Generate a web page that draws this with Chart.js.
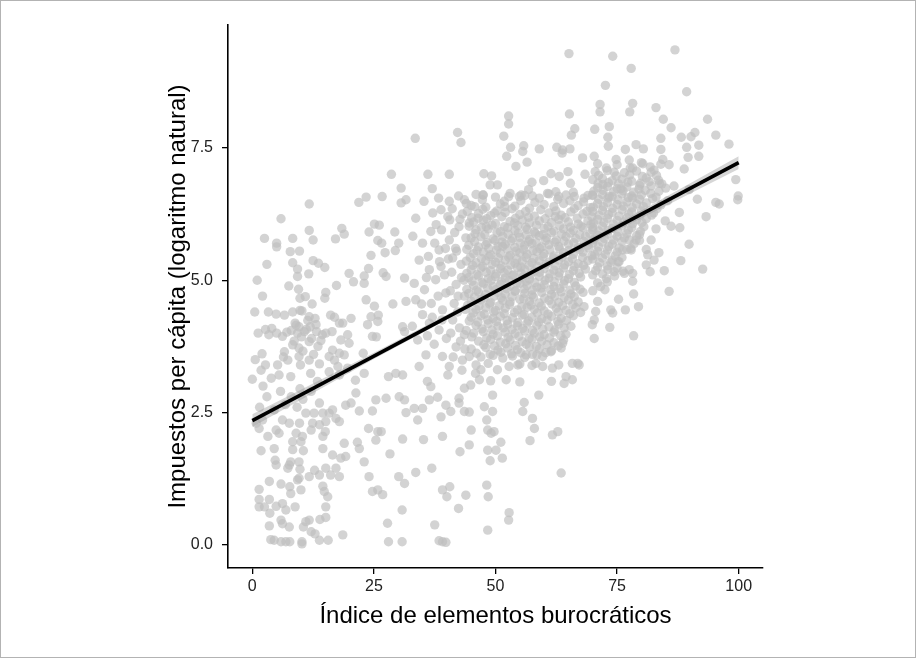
<!DOCTYPE html>
<html>
<head>
<meta charset="utf-8">
<script src="https://cdn.jsdelivr.net/npm/chart.js@4.4.1/dist/chart.umd.min.js"></script>
<style>
  html, body { margin: 0; padding: 0; background: #fff; }
  #grafico { display: block; }
</style>
</head>
<body>
<canvas id="grafico" width="916" height="658"></canvas>
<script>
// ticks
const xTicks = [0, 25, 50, 75, 100];
const yTicks = [0, 2.5, 5, 7.5];
const yTickLabels = ['0.0', '2.5', '5.0', '7.5'];

// recta de regresión y banda de confianza
const lineaX = [0, 100];
const lineaY = [2.35, 7.22];
const bandaX = [0, 25, 50, 75, 100];
const bandaInf = [2.23, 3.51, 4.75, 5.94, 7.10];
const bandaSup = [2.47, 3.63, 4.83, 6.06, 7.34];

// puntos: [índice, impuestos]
const puntosIzquierda = [
  [28.6,7.0],[30.6,6.74],[26.7,6.58],[23.4,6.57],[21.9,6.47],[11.7,6.44],[31.6,6.52],[30.6,6.46],
  [5.9,6.16],[2.5,5.79],[5.0,5.70],[5.0,5.63],[8.3,5.79],[7.8,5.54],[9.7,5.55],[11.7,5.94],[12.5,5.76],
  [18.4,5.98],[18.9,5.87],[17.1,5.78],[24.0,5.91],[25.1,6.06],[26.1,6.04],[25.8,5.75],[26.6,5.70],
  [29.3,5.91],[27.3,5.52],[29.4,5.56],[30.1,5.70],[8.3,5.33],[9.3,5.21],[9.3,5.07],[12.5,5.37],[13.6,5.32],
  [14.9,5.24],[11.6,5.12],[7.5,4.89],[9.5,4.83],[9.8,4.66],[15.1,4.77],[14.9,4.66],[17.3,4.90],[10.9,4.69],
  [12.3,4.55],[9.8,4.43],[19.9,5.13],[20.8,4.97],[23.0,5.08],[23.0,4.94],[23.9,5.22],[24.4,5.47],[26.9,5.14],
  [27.5,5.07],[31.3,5.04],[23.4,4.63],[25.1,4.51],[28.9,4.55],[31.6,4.60],[4.9,4.36],[6.6,4.34],[8.3,4.40],
  [11.7,4.31],[12.9,4.28],[16.1,4.34],[16.9,4.30],[18.6,4.19],[20.3,4.28],[24.4,4.31],[25.9,4.34],[25.8,4.22],
  [23.7,4.16],[2.7,4.07],[4.0,4.09],[3.4,3.97],[5.0,4.00],[6.2,3.94],[8.8,4.19],[9.6,4.12],[10.7,4.03],
  [9.3,4.00],[11.9,4.12],[13.2,4.03],[14.4,3.97],[15.1,4.00],[16.4,4.03],[17.9,4.19],[19.6,3.97],[19.9,3.81],
  [18.2,3.87],[8.3,3.78],[9.6,3.72],[11.7,3.84],[6.6,3.65],[2.0,3.61],[7.3,3.49],[9.6,3.56],[11.7,3.49],
  [16.5,3.68],[17.9,3.62],[18.9,3.59],[16.9,3.49],[15.8,3.56],[2.7,3.40],[5.2,3.40],[9.9,3.40],[13.8,3.42],
  [17.6,3.37],[19.6,3.34],[22.8,3.62],[24.7,3.94],[25.5,3.93],[30.9,4.12],[31.3,4.03],[0.0,3.13],[3.9,3.15],
  [5.5,3.21],[7.9,3.18],[12.0,3.24],[13.4,3.09],[15.8,3.27],[17.9,3.21],[23.0,3.24],[21.2,3.11],[28.0,3.18],
  [29.5,3.24],[30.9,3.21],
  [8.0,4.05],[9.0,4.15],[10.1,3.93],[11.1,4.07],[12.2,3.9],[8.6,3.85],[10.4,3.66],[7.1,4.02],[11.4,4.24],
  [13.1,4.16],[14.1,3.86],[12.6,3.6],[6.4,3.55],[10.2,4.42],[13.5,3.75],[1.2,4.0],[0.6,3.5],[1.8,3.3],
  [3.3,4.4],[2.1,4.7],[1.0,5.0],[3.0,5.3],[0.5,4.4],
  [1.5,2.6],[3.0,2.8],[4.5,2.55],[5.8,2.9],[6.8,2.65],[8.0,2.8],[9.2,2.6],[10.4,2.75],[2.2,3.0],[9.8,2.95],
  [1.8,1.78],[1.4,1.05],[1.4,0.86],[1.4,0.72],[3.5,1.20],[3.5,0.86],[3.6,0.60],[3.5,0.36],[3.8,0.10],
  [2.5,0.72],[4.9,0.73],[5.9,1.15],[6.2,0.78],[5.9,0.47],[6.2,0.40],[6.9,0.66],[7.7,1.10],[7.9,0.97],
  [7.6,0.34],[8.8,0.72],[10.0,1.04],[9.3,1.23],[9.6,1.26],[10.5,0.34],[11.0,0.44],[11.7,0.47],[12.1,0.25],
  [12.9,0.21],[13.9,0.48],[15.1,0.52],[15.1,0.72],[15.5,0.91],[14.8,1.01],[14.5,1.11],[13.8,0.09],[15.6,0.09],
  [18.6,0.19],[4.5,0.09],[5.9,0.06],[6.9,0.06],[7.7,0.06],[10.2,0.06],[10.2,0.02],[11.7,1.29],[12.8,1.41],
  [13.8,1.32],[15.1,1.45],[16.1,1.32],[17.2,1.45],[17.9,1.29],[7.6,1.51],[7.3,1.45],[9.6,1.57],[9.8,1.43],
  [4.7,1.60],[4.9,1.51],[7.9,1.57],[4.5,1.82],[8.3,1.80],[10.5,1.78],[12.1,2.17],[10.0,1.95],[14.5,1.82],
  [15.0,2.14],[16.5,1.70],[18.2,1.64],[19.2,1.67],[18.9,1.92],[21.6,1.94],[22.0,1.82],[23.0,1.57],[24.0,1.29],
  [24.7,1.01],[25.8,1.04],[26.8,0.95],[27.8,0.41],[28.0,0.06],[30.8,0.06],[30.8,0.66],[30.1,1.29],[31.3,1.16],
  [28.3,1.72],[30.9,2.00],[23.9,2.20],[25.8,2.14],[26.5,2.14],[25.4,1.98],[24.7,2.53],[25.4,2.74],[27.5,2.77],
  [30.2,2.80],[31.3,2.74],[31.6,2.50],[19.2,2.64],[20.3,2.68],[21.3,2.87],[22.0,2.53],[12.1,2.90],[13.8,2.68],
  [11.0,2.49],[12.7,2.49],[14.5,2.49],[15.8,2.49],[16.5,2.55],[17.2,2.39],[17.9,2.33],[12.4,2.30],[9.7,2.30],
  [7.6,2.30],[6.2,2.36],[4.9,2.17],[3.2,2.05],[5.5,2.11],[9.0,2.11],[10.3,2.05],[13.8,2.27],[15.1,2.33],
  [14.5,2.05],[8.3,1.95],[1.4,2.20],[2.1,2.36],[0.8,2.30]
];

const puntosCentro = [
  [65.1,9.28],[65.2,8.14],[66.3,7.86],[65.6,7.74],[52.7,8.10],[52.7,7.95],[51.7,7.72],[42.2,7.79],[42.9,7.60],
  [33.5,7.68],[53.1,7.51],[55.8,7.54],[55.6,7.43],[52.3,7.34],[56.5,7.23],[54.2,7.15],[59.0,7.48],[62.6,7.51],
  [63.8,7.46],[65.3,7.48],[63.7,7.40],[67.9,7.31],[36.1,7.00],[40.5,7.00],[47.6,7.01],[49.2,6.97],[48.9,6.80],
  [50.4,6.80],[57.5,6.85],[59.9,6.88],[61.4,7.01],[63.1,6.96],[64.9,7.05],[65.4,6.83],[68.4,7.00],[37.0,6.73],
  [35.3,6.49],[38.3,6.55],[40.5,6.49],[42.4,6.59],[43.6,6.52],[47.5,6.61],[52.7,6.58],[54.9,6.58],[56.8,6.71],
  [57.6,6.59],[60.7,6.64],[62.4,6.67],[64.5,6.61],[66.2,6.58],[68.2,6.55],
  [47.4,6.61],[55.3,6.61],[45.7,6.39],[46.4,6.17],[49.8,6.27],[51.9,6.39],[53.9,6.08],[51.5,5.64],[48.1,6.01],
  [37.1,6.27],[33.6,6.17],[38.8,6.33],[40.6,6.14],[42.5,6.01],[44.6,6.08],[33.0,5.83],[35.0,5.70],[36.7,5.92],
  [38.4,5.57],[40.5,5.76],[34.3,5.38],[36.4,5.20],[38.8,5.26],[41.2,5.42],[33.3,4.94],[35.4,4.82],[37.7,5.01],
  [39.8,4.76],[41.9,4.92],[33.6,4.63],[36.8,4.56],[39.1,4.44],[41.5,4.56],[36.4,4.19],[38.4,4.06],[41.2,4.25],
  [32.9,4.13],[37.4,3.79],[41.9,3.74],
  [34.0,3.87],[35.0,4.35],[34.3,3.37],[35.7,3.59],[39.1,3.56],[40.5,3.37],[40.2,3.21],[43.2,3.49],[44.6,3.56],
  [45.9,3.24],[47.0,3.31],[50.4,3.31],[52.2,3.12],[52.8,3.37],[54.6,3.40],[56.3,3.59],[58.3,3.43],[59.7,3.56],
  [61.4,3.65],[61.7,3.34],[63.8,3.81],[65.8,3.43],[67.2,3.40],[64.5,3.18],[59.7,3.37],[43.6,3.97],[66.9,3.43],
  [36.0,3.09],[36.7,2.99],[35.0,2.58],[33.3,2.58],[34.0,2.36],[38.8,2.42],[39.8,2.64],[40.8,2.52],[42.5,2.77],
  [43.6,2.96],[44.9,3.02],[42.5,2.68],[43.6,2.52],[44.6,2.51],[38.1,2.79],[36.4,2.74],[46.7,3.12],[47.7,2.61],
  [49.4,2.83],[49.4,2.52],[48.2,2.36],[48.4,2.17],[49.1,2.11],[49.7,2.14],[45.0,2.17],[44.6,1.89],[42.7,1.76],
  [39.1,2.05],[35.2,1.99],[48.4,1.79],[50.1,1.79],[51.1,1.94],[51.4,1.64],[48.9,1.59],[55.9,2.69],[55.6,2.52],
  [58.9,2.83],[57.6,2.39],[58.0,2.20],[57.1,1.97],[61.7,2.08],[62.8,2.14],[64.1,3.05],[65.8,3.12],[63.5,1.36],
  [33.6,1.37],[36.9,1.45],[39.1,1.04],[40.6,1.10],[40.0,0.91],[43.9,0.94],[48.2,1.13],[48.5,0.91],[42.4,0.69],
  [52.8,0.61],[52.7,0.47],[48.4,0.28],[37.5,0.38],[38.4,0.08],[39.8,0.05],[39.1,0.06],
  [36.2,5.45],[37.5,5.7],[38.9,5.95],[40.2,6.2],[41.8,5.6],[42.9,5.3],[43.5,5.0],[42.3,4.7],[43.8,4.45],
  [40.8,4.0],[42.6,4.1],[43.9,5.8],[42.0,5.55],[39.5,5.1],[40.7,4.8],[38.2,4.7],[37.0,4.3],[39.9,3.9],
  [42.8,3.85],[41.3,3.55],[43.1,3.3],[37.8,6.05],[41.1,6.35],[43.2,6.25],[44.0,6.45],[43.0,5.05],[40.3,5.4],
  [38.5,5.35],[35.8,5.05],[34.8,4.55],[36.0,3.95],[39.0,4.25],[42.2,4.4],[43.6,4.7],[41.0,5.15],[43.7,3.7],
  [44.0,4.05],[42.7,6.15],[41.6,5.9],[39.7,5.6]
];

const nubeCentral = [
  [46,6.62],[50,6.57],[53,6.64],[56,6.6],[59,6.55],[61,6.63],[63,6.58],[66,6.66],[69,6.6],
  [45,6.41],[48,6.38],[51,6.44],[54,6.4],[57,6.36],[60,6.43],[62,6.39],[64,6.45],[67,6.41],[69.5,6.37],
  [46.5,6.26],[49,6.22],[52,6.28],[55,6.24],[58,6.21],[61,6.27],[63.5,6.23],[65.5,6.29],[68,6.25],
  [45.5,6.1],[47.5,6.13],[50,6.07],[53,6.11],[55.5,6.14],[57,6.08],[59,6.12],[61.5,6.09],[63,6.15],[65,6.1],[67,6.06],[69,6.12],
  [46,5.95],[48.5,5.97],[51,5.92],[52.5,5.99],[54,5.94],[56.5,5.96],[58,5.91],[60,5.98],[62,5.93],[64,5.97],[66,5.94],[68,5.99],[70,5.95],
  [45,5.8],[47,5.82],[49.5,5.78],[51.5,5.83],[53.5,5.79],[55,5.81],[57,5.77],[59,5.84],[60.5,5.8],[62.5,5.76],[64.5,5.82],[66.5,5.79],[68.5,5.83],
  [44.5,5.66],[46.5,5.63],[48,5.67],[50.5,5.64],[52,5.68],[54,5.62],[56,5.66],[57.5,5.69],[59.5,5.63],[61,5.67],[63,5.64],[65,5.68],[67,5.62],[69,5.66],
  [45.5,5.5],[47.5,5.53],[49,5.48],[51,5.51],[53,5.47],[55,5.52],[56.5,5.49],[58.5,5.54],[60,5.5],[62,5.46],[64,5.52],[66,5.49],[68,5.53],
  [44,5.36],[46,5.33],[48,5.37],[50,5.34],[52,5.38],[54,5.32],[55.5,5.36],[57.5,5.33],[59,5.37],[61,5.34],[63,5.38],[65,5.35],[67,5.31],[69,5.37],
  [45,5.2],[47,5.23],[49,5.18],[51,5.22],[52.5,5.19],[54.5,5.24],[56,5.2],[58,5.17],[60,5.22],[62,5.19],[64,5.23],[66,5.18],[68.5,5.21],
  [44.5,5.05],[46.5,5.08],[48.5,5.03],[50,5.07],[52,5.04],[53.5,5.09],[55.5,5.05],[57,5.02],[59,5.07],[61,5.04],[63,5.08],[65,5.03],[67.5,5.06],
  [45.5,4.9],[47.5,4.93],[49.5,4.88],[51,4.92],[53,4.89],[55,4.94],[56.5,4.9],[58.5,4.87],[60,4.92],[62,4.88],[64,4.93],[66.5,4.89],
  [44.5,4.75],[46.5,4.78],[48,4.73],[50.5,4.77],[52,4.74],[54,4.79],[56,4.75],[57.5,4.72],[59.5,4.77],[61.5,4.73],[63.5,4.78],[65.5,4.74],[68,4.77],
  [45,4.6],[47,4.63],[49,4.58],[51.5,4.62],[53,4.59],[55,4.64],[57,4.6],[59,4.57],[61,4.62],[63,4.58],[65,4.63],[67,4.59],
  [46,4.45],[48,4.48],[50,4.43],[52,4.47],[54.5,4.44],[56.5,4.49],[58,4.45],[60,4.42],[62.5,4.47],[64.5,4.43],[66.5,4.48],
  [45,4.3],[47,4.33],[49.5,4.28],[51,4.32],[53.5,4.29],[55.5,4.34],[57.5,4.3],[59.5,4.27],[61.5,4.32],[63.5,4.28],[66,4.33],
  [46,4.15],[48.5,4.18],[50.5,4.13],[52.5,4.17],[54.5,4.14],[56.5,4.19],[58.5,4.15],[61,4.12],[63,4.17],[65.5,4.13],
  [45.5,4.0],[47.5,4.03],[49.5,3.98],[52,4.02],[54,3.99],[56,4.04],[58,4.0],[60,3.97],[62,4.02],[64.5,3.98],
  [46.5,3.85],[49,3.88],[51,3.83],[53,3.87],[55.5,3.84],[57.5,3.89],[59.5,3.85],[62,3.82],[64,3.87],
  [45,3.7],[48,3.73],[50.5,3.68],[52.5,3.72],[54.5,3.69],[57,3.74],[59,3.7],[61.5,3.67],[63.5,3.72],
  [47,3.55],[49.5,3.58],[51.5,3.53],[53.5,3.57],[56,3.54],[58.5,3.59],
  [46,3.4],[48.5,3.43],[55,3.42],[57.5,3.39],[63,3.4],
  [49,3.1],[55,3.08],[61.5,3.09]
];

// segunda capa de la nube densa, entre las filas de la primera
const nubeCentral2 = [
  [47.3,6.52],[51.8,6.49],[55.2,6.5],[58.1,6.47],[62.8,6.53],[65.3,6.5],[68.1,6.48],
  [44.2,6.3],[47.4,6.34],[50.3,6.31],[53.4,6.35],[56.2,6.3],[59.3,6.33],[62.4,6.31],[66.2,6.35],[68.8,6.3],
  [45.1,6.18],[48.2,6.16],[51.3,6.2],[54.1,6.17],[56.8,6.19],[60.2,6.16],[62.3,6.2],[64.3,6.18],[66.8,6.17],[69.8,6.2],
  [44.6,6.02],[47.1,6.0],[49.3,6.04],[51.8,6.01],[54.6,6.03],[56.2,6.0],[58.4,6.04],[60.8,6.01],[63.2,6.03],[65.4,6.0],[67.6,6.02],[69.6,6.05],
  [45.8,5.88],[47.8,5.86],[50.3,5.9],[52.6,5.87],[54.7,5.89],[56.3,5.85],[58.2,5.88],[59.8,5.86],[61.5,5.9],[63.6,5.87],[65.4,5.89],[67.3,5.86],[69.4,5.88],
  [45.7,5.73],[48.3,5.71],[49.9,5.75],[51.3,5.72],[53.2,5.74],[55.1,5.7],[56.8,5.73],[58.4,5.71],[60.3,5.75],[62.2,5.72],[64.1,5.74],[66.1,5.71],[68.2,5.73],[70.2,5.76],
  [44.1,5.58],[46.2,5.56],[48.6,5.6],[50.2,5.57],[52.4,5.59],[54.2,5.55],[55.8,5.58],[57.7,5.56],[59.1,5.6],[61.2,5.57],[63.2,5.59],[65.1,5.56],[67.3,5.58],[69.2,5.61],
  [44.8,5.43],[47.1,5.41],[48.7,5.45],[50.6,5.42],[52.7,5.44],[54.4,5.4],[56.3,5.43],[57.9,5.41],[59.8,5.45],[61.9,5.42],[63.7,5.44],[65.8,5.41],[67.9,5.43],[69.8,5.46],
  [45.3,5.28],[47.4,5.26],[49.3,5.3],[51.2,5.27],[53.1,5.29],[55.2,5.25],[56.9,5.28],[58.6,5.26],[60.4,5.3],[62.3,5.27],[64.2,5.29],[66.2,5.26],[68.1,5.28],
  [44.1,5.13],[46.2,5.11],[48.1,5.15],[50.1,5.12],[51.8,5.14],[53.7,5.1],[55.3,5.13],[57.2,5.11],[59.1,5.15],[61.2,5.12],[63.1,5.14],[65.2,5.11],[67.2,5.13],
  [45.2,4.98],[47.2,4.96],[49.1,5.0],[51.2,4.97],[52.8,4.99],[54.4,4.95],[56.3,4.98],[58.1,4.96],[60.2,5.0],[62.1,4.97],[64.2,4.99],[66.2,4.96],
  [44.1,4.83],[46.1,4.81],[48.4,4.85],[50.1,4.82],[52.3,4.84],[54.1,4.8],[55.9,4.83],[57.6,4.81],[59.4,4.85],[61.3,4.82],[63.2,4.84],[65.3,4.81],[67.4,4.83],
  [45.7,4.68],[47.6,4.66],[49.7,4.7],[51.2,4.67],[53.4,4.69],[55.8,4.65],[57.8,4.68],[60.1,4.66],[62.2,4.7],[64.1,4.67],[66.2,4.69],
  [44.3,4.53],[46.6,4.51],[48.8,4.55],[50.8,4.52],[52.9,4.54],[55.4,4.5],[57.3,4.53],[59.4,4.51],[61.6,4.55],[63.8,4.52],[65.9,4.54],[68.2,4.5],
  [45.4,4.38],[47.7,4.36],[49.6,4.4],[51.8,4.37],[53.9,4.39],[55.9,4.35],[58.6,4.38],[60.8,4.36],[62.9,4.4],[65.3,4.37],[67.5,4.39],
  [44.6,4.23],[46.4,4.21],[48.4,4.25],[50.2,4.22],[52.4,4.24],[54.6,4.2],[56.8,4.23],[58.9,4.21],[60.6,4.25],[62.8,4.22],[64.6,4.24],
  [47.2,4.08],[49.3,4.06],[51.6,4.1],[53.4,4.07],[55.6,4.09],[57.6,4.05],[59.7,4.08],[62.2,4.06],[64.1,4.1],
  [45.1,3.93],[48.2,3.91],[50.4,3.95],[52.6,3.92],[54.8,3.94],[56.9,3.9],[59.1,3.93],[61.1,3.91],[63.4,3.95],
  [47.6,3.78],[49.8,3.76],[52.1,3.8],[54.1,3.77],[56.3,3.79],[58.4,3.75],[60.6,3.78],[62.9,3.76],
  [46.1,3.62],[48.9,3.6],[51.1,3.64],[53.3,3.61],[55.2,3.63],[57.6,3.6],[60.3,3.63]
];

const puntosDerecha = [
  [86.9,9.35],[74.1,9.23],[77.9,9.00],[72.6,8.68],[89.3,8.56],[71.5,8.32],[71.5,8.18],[78.2,8.34],[77.6,8.18],
  [83.0,8.26],[84.5,8.04],[93.6,8.04],[86.1,7.88],[70.4,7.85],[73.4,7.90],[91.0,7.79],[90.2,7.71],[95.3,7.74],
  [88.2,7.70],[84.0,7.68],[73.1,7.70],[73.2,7.53],[98.0,7.57],[76.7,7.47],[78.9,7.56],[80.4,7.48],[84.0,7.47],
  [89.3,7.51],[91.8,7.55],[89.6,7.32],[91.8,7.34],[70.3,7.34],[74.8,7.28],[77.5,7.27],[80.3,7.20],[84.4,7.28],
  [88.8,7.10],[85.7,7.18],[82.6,7.08],[78.2,7.12],[74.4,7.04],[99.4,6.90],[99.9,6.59],[72.1,6.81],[75.8,6.73],
  [79.6,6.79],[83.7,6.83],[86.7,6.78],[89.8,6.71],[91.5,6.53],[95.3,6.47],[81.9,6.64],[69.9,6.61],[73.4,6.58],
  [78.2,6.55],
  [96.0,6.44],[99.8,6.52],[93.3,6.20],[87.8,6.28],[87.9,5.99],[86.1,6.02],[84.9,6.12],[89.8,5.68],[88.1,5.37],
  [92.6,5.21],[84.7,5.18],[81.8,5.16],[81.0,5.29],[82.6,5.38],[83.6,5.52],[81.3,5.48],[81.0,5.58],[82.0,5.76],
  [79.6,5.86],[79.6,5.75],[77.5,5.76],[77.8,5.60],[76.1,5.57],[75.4,5.35],[78.2,5.13],[76.5,5.13],[74.1,4.38],
  [69.9,4.16],[85.7,4.79],[78.4,4.74],[75.3,4.64],[79.4,4.50],[76.7,4.44],[73.7,4.44],[70.6,4.41],[70.3,4.25],
  [73.5,4.11],[78.4,3.95],[70.3,3.90],[78.2,4.98],[77.5,5.20],[74.4,5.16],
  [78.9,5.76],[77.9,5.57],[76.2,5.17],[75.2,5.35],[73.1,5.20],
  [71,7.2],[75,7.18],[80,7.22],[84,7.19],
  [70.5,7.05],[73,7.07],[76.5,7.03],[79,7.06],[82,7.04],
  [70,6.9],[72,6.92],[74,6.88],[76,6.91],[78,6.87],[81,6.93],[83.5,6.89],
  [71,6.75],[73,6.77],[75,6.73],[77,6.76],[79.5,6.72],[82,6.78],[85,6.74],
  [70,6.6],[72,6.62],[74,6.58],[76,6.63],[78,6.59],[80,6.61],[83,6.57],
  [71,6.45],[73,6.47],[75,6.43],[77,6.48],[79,6.44],[81,6.46],[84,6.42],
  [70,6.3],[72,6.32],[74,6.28],[76,6.33],[78,6.29],[80,6.31],[82.5,6.27],
  [71,6.15],[73,6.17],[75,6.13],[77,6.18],[79,6.14],[81,6.16],
  [70,6.0],[72,6.02],[74,5.98],[76,6.03],[78,5.99],[80.5,6.01],[83,5.97],
  [71,5.85],[73,5.87],[75,5.83],[77,5.88],[79,5.84],
  [70,5.7],[72,5.72],[74,5.68],[76,5.73],[78.5,5.69],
  [71,5.55],[73,5.57],[75,5.53],[77,5.58],
  [70,5.4],[72,5.42],[74,5.38],[76,5.43],
  [71,5.25],[73,5.27],[75,5.23],
  [70,5.1],[72,5.12],[74.5,5.08],
  [71,4.95],[73,4.97],
  [70,4.8],[72.5,4.82],
  [71,4.6]
];

const nubeDerecha2 = [
  [72.8,7.12],[77.7,7.12],[81.8,7.14],
  [71.2,6.98],[74.8,6.97],[77.6,6.99],[80.2,6.96],[83.1,6.98],
  [71.1,6.83],[73.2,6.84],[75.3,6.82],[77.2,6.85],[79.8,6.83],[81.6,6.86],[84.2,6.82],
  [70.2,6.68],[72.1,6.7],[74.3,6.67],[76.2,6.69],[78.4,6.66],[80.8,6.7],[83.6,6.68],
  [71.2,6.53],[73.1,6.55],[75.2,6.52],[77.3,6.56],[79.6,6.53],[82.3,6.54],[85.4,6.5],
  [70.1,6.38],[72.2,6.39],[74.1,6.36],[76.3,6.4],[78.1,6.37],[80.4,6.39],[83.2,6.35],
  [71.3,6.23],[73.2,6.24],[75.4,6.21],[77.4,6.25],[79.7,6.22],[82.1,6.23],
  [70.2,6.08],[72.3,6.09],[74.2,6.06],[76.4,6.1],[78.2,6.07],[80.1,6.09],
  [71.2,5.93],[73.1,5.94],[75.2,5.91],[77.3,5.95],[79.8,5.92],
  [70.3,5.78],[72.4,5.79],[74.3,5.76],[76.5,5.8],
  [71.2,5.63],[73.3,5.64],[75.4,5.61],
  [70.4,5.48],[72.6,5.49],[74.6,5.46],
  [71.4,5.33],[73.7,5.34],
  [70.6,5.18],[72.8,5.03],[71.6,4.88]
];

const puntos = [].concat(puntosIzquierda, puntosCentro, nubeCentral, nubeCentral2, puntosDerecha, nubeDerecha2);

const fuente = '"Liberation Sans", Arial, Helvetica, sans-serif';

// fondo blanco y marco gris fino
const marco = {
  id: 'marco',
  beforeDraw(chart) {
    const c = chart.ctx;
    c.save();
    c.fillStyle = '#fff';
    c.fillRect(0, 0, chart.width, chart.height);
    c.restore();
  },
  afterDraw(chart) {
    const c = chart.ctx;
    c.save();
    c.strokeStyle = '#b3b3b3';
    c.lineWidth = 1;
    c.strokeRect(0.5, 0.5, chart.width - 1, chart.height - 1);
    c.restore();
  }
};

new Chart(document.getElementById('grafico'), {
  type: 'scatter',
  data: {
    datasets: [
      {
        label: 'puntos',
        data: puntos.map(p => ({ x: p[0], y: p[1] })),
        backgroundColor: 'rgba(190,190,190,0.68)',
        pointRadius: 4.7,
        borderWidth: 0,
        order: 3
      },
      {
        type: 'line',
        label: 'bandaInf',
        data: bandaX.map((x, i) => ({ x: x, y: bandaInf[i] })),
        borderWidth: 0,
        borderColor: 'rgba(0,0,0,0)',
        pointRadius: 0,
        fill: false,
        order: 2
      },
      {
        type: 'line',
        label: 'bandaSup',
        data: bandaX.map((x, i) => ({ x: x, y: bandaSup[i] })),
        borderWidth: 0,
        borderColor: 'rgba(0,0,0,0)',
        backgroundColor: 'rgba(153,153,153,0.4)',
        pointRadius: 0,
        fill: '-1',
        order: 2
      },
      {
        type: 'line',
        label: 'ajuste',
        data: lineaX.map((x, i) => ({ x: x, y: lineaY[i] })),
        borderColor: '#000',
        borderWidth: 3.6,
        pointRadius: 0,
        fill: false,
        order: 1
      }
    ]
  },
  options: {
    responsive: false,
    animation: false,
    events: [],
    layout: { padding: { left: 0, right: 153, top: 25, bottom: 0 } },
    plugins: { legend: { display: false }, tooltip: { enabled: false } },
    scales: {
      x: {
        type: 'linear',
        min: -5,
        max: 105,
        afterBuildTicks: s => { s.ticks = xTicks.map(v => ({ value: v })); },
        afterFit: s => { s.height = 90; },
        grid: { display: true, drawOnChartArea: false, drawTicks: true, tickLength: 6, color: '#000', lineWidth: 1.3 },
        border: { display: true, color: '#000', width: 1.6 },
        ticks: {
          color: '#222', padding: 3, maxRotation: 0, autoSkip: false,
          font: { family: fuente, size: 16 },
          callback: v => String(v)
        },
        title: {
          display: true, text: 'Índice de elementos burocráticos', color: '#000',
          font: { family: fuente, size: 24 }, padding: { top: 0, bottom: 27 }
        }
      },
      y: {
        type: 'linear',
        min: -0.435,
        max: 9.82,
        afterBuildTicks: s => { s.ticks = yTicks.map(v => ({ value: v })); },
        afterFit: s => { s.width = 228; },
        grid: { display: true, drawOnChartArea: false, drawTicks: true, tickLength: 6, color: '#000', lineWidth: 1.3 },
        border: { display: true, color: '#000', width: 1.6 },
        ticks: {
          color: '#222', padding: 9, autoSkip: false,
          font: { family: fuente, size: 16 },
          callback: v => yTickLabels[yTicks.indexOf(v)]
        },
        title: {
          display: true, text: 'Impuestos per cápita (logaritmo natural)', color: '#000',
          font: { family: fuente, size: 24 }, padding: { top: 164, bottom: 0 }
        }
      }
    }
  },
  plugins: [marco]
});
</script>
</body>
</html>
